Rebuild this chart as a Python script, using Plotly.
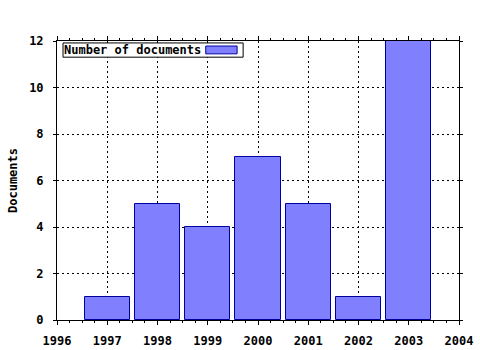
import plotly.graph_objects as go

years = [1997, 1998, 1999, 2000, 2001, 2002, 2003]
docs = [1, 5, 4, 7, 5, 1, 12]
series_name = "Number of documents"
x_ticks = [1996, 1997, 1998, 1999, 2000, 2001, 2002, 2003, 2004]
y_ticks = [0, 2, 4, 6, 8, 10, 12]

BOLD = dict(family="DejaVu Sans Mono", size=12, color="black", weight="bold")
fill = "#8080ff"
edge = "#0000a0"

fig = go.Figure()
fig.add_trace(go.Bar(x=years, y=docs, width=0.9, name=series_name,
                     marker=dict(color=fill, line=dict(color=edge, width=1)),
                     showlegend=False))

axis_common = dict(showline=True, linecolor="black", linewidth=1, mirror="ticks",
                   ticks="outside", tickcolor="black", automargin=False,
                   showgrid=True, gridcolor="black", griddash="2px,3px", gridwidth=1,
                   zeroline=False, tickfont=BOLD)

fig.update_xaxes(range=[1996, 2004], tickvals=x_ticks, ticktext=[str(v) for v in x_ticks],
                 ticklen=4, ticklabelstandoff=6,
                 minor=dict(ticks="outside", ticklen=2, dtick=0.25, tickcolor="black", showgrid=False),
                 **axis_common)
fig.update_yaxes(range=[0, 12], tickvals=y_ticks, ticklen=3, ticklabelstandoff=7,
                 title=dict(text="Documents", font=BOLD, standoff=8),
                 **axis_common)

# legend box (text left, sample right)
fig.add_shape(type="rect", xref="paper", yref="paper", x0=0.015, x1=0.463, y0=0.942, y1=0.993,
              line=dict(color="black", width=1), fillcolor="white", layer="above")
fig.add_annotation(xref="paper", yref="paper", x=0.012, y=0.966, xanchor="left", yanchor="middle",
                   text=series_name, showarrow=False, font=BOLD)
fig.add_shape(type="rect", xref="paper", yref="paper", x0=0.370, x1=0.448, y0=0.954, y1=0.982,
              line=dict(color=edge, width=1), fillcolor=fill, layer="above")

fig.update_layout(width=480, height=350, margin=dict(l=57, r=21, t=41, b=30),
                  paper_bgcolor="white", plot_bgcolor="white", font=BOLD, bargap=0)
fig.write_html("out.html")
